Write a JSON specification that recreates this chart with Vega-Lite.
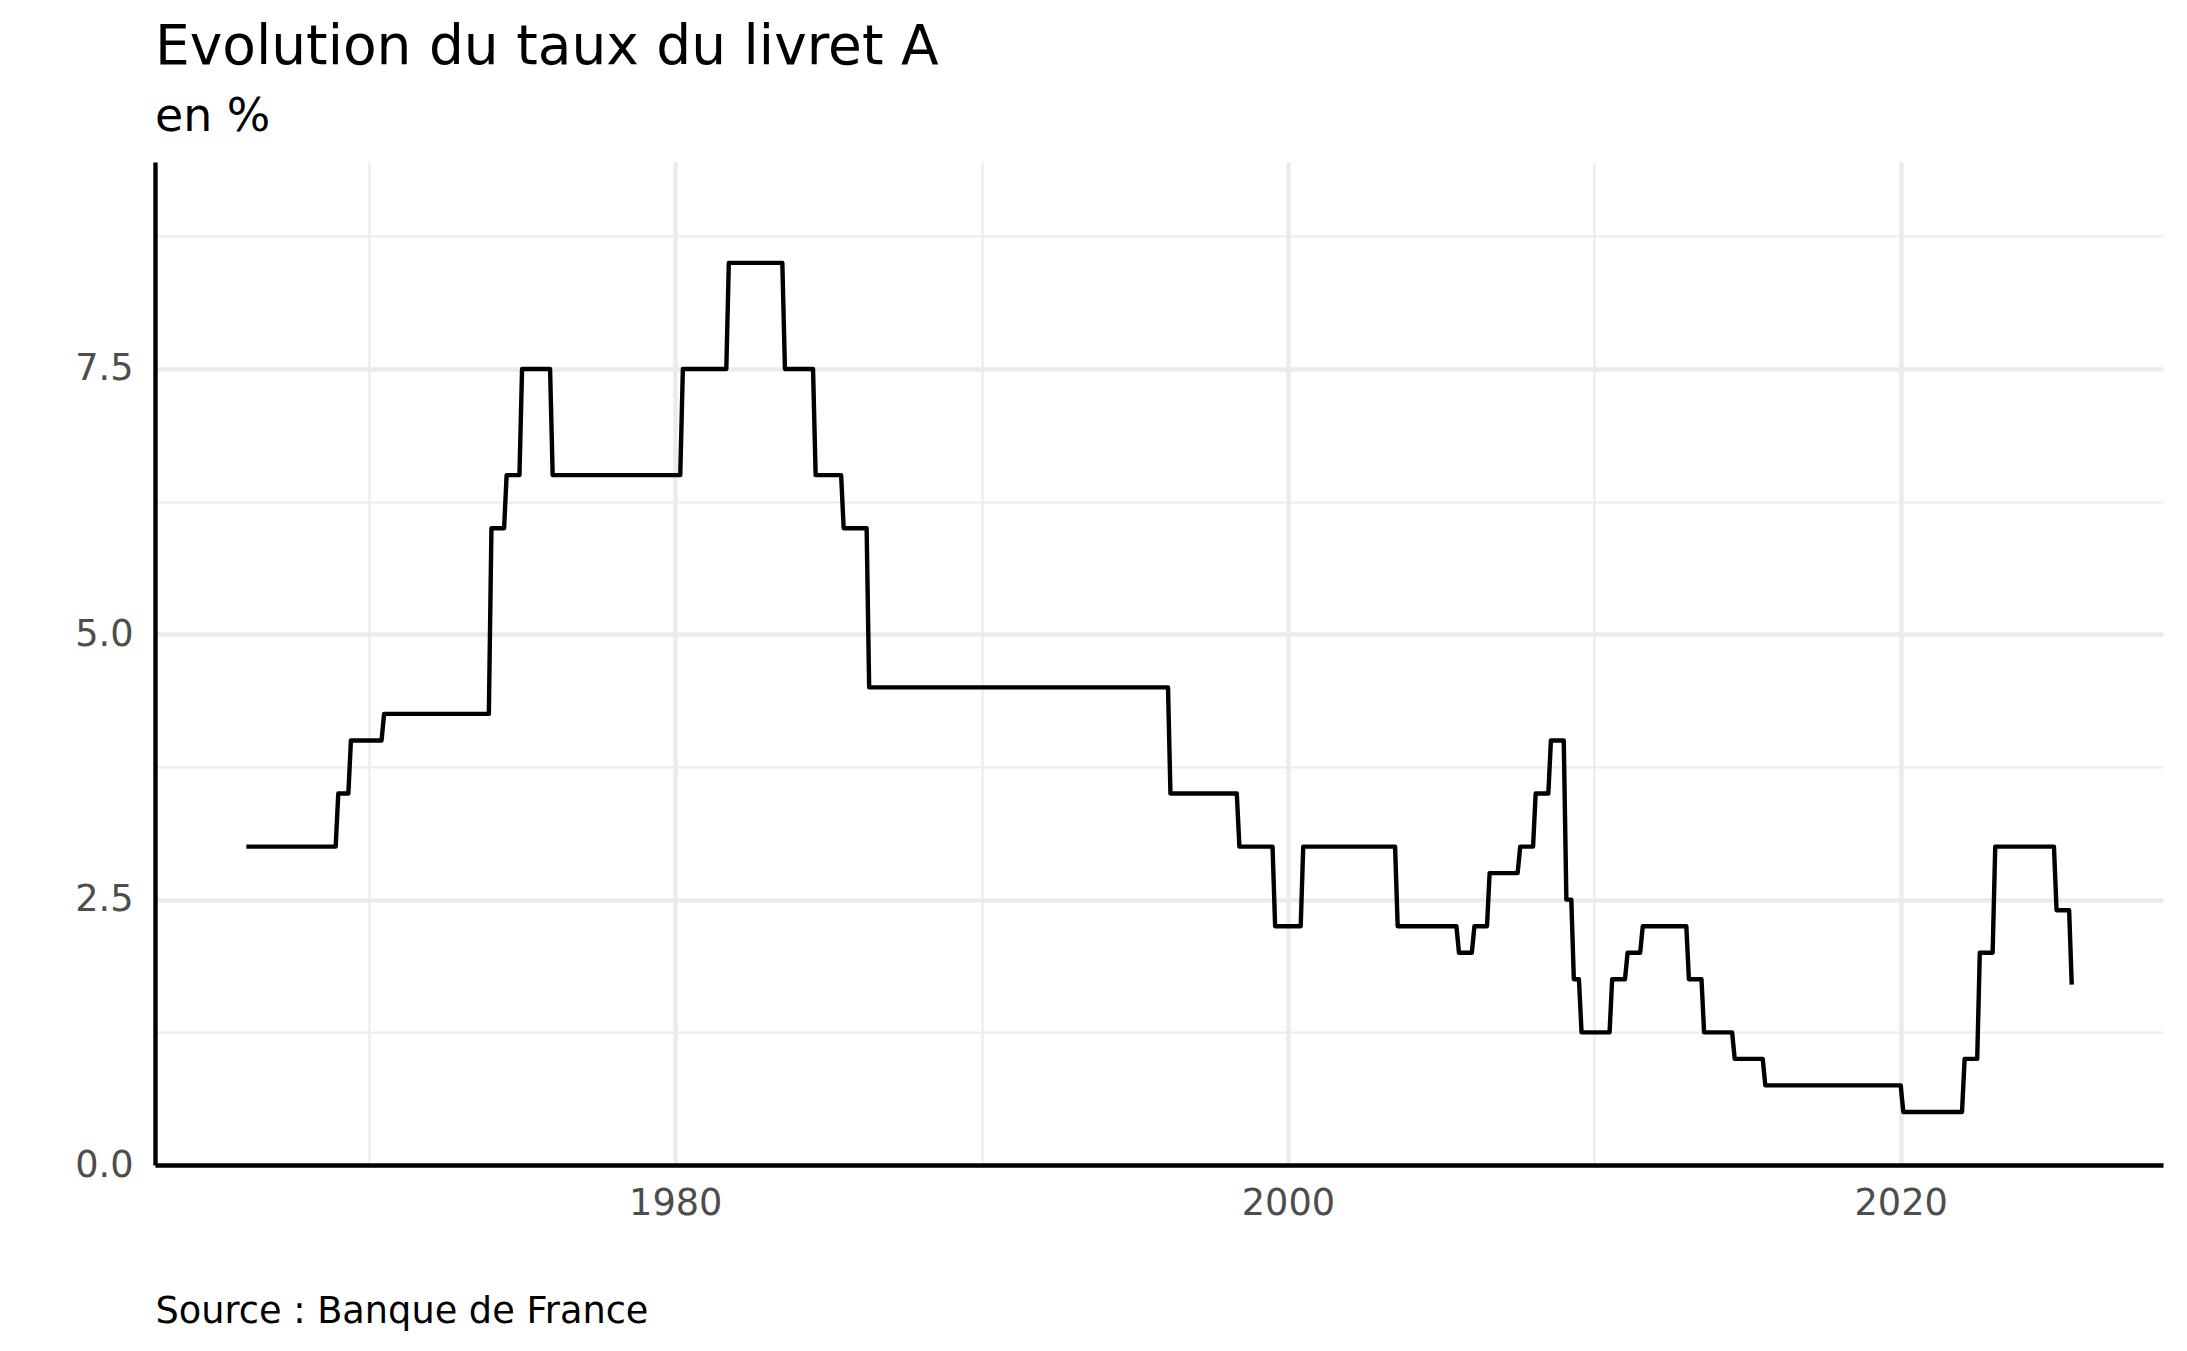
{
  "$schema": "https://vega.github.io/schema/vega-lite/v6.json",
  "autosize": {"type": "none"},
  "padding": {"left": 155, "top": 162, "right": 24, "bottom": 186},
  "width": 2008,
  "height": 1003,
  "background": "white",
  "title": {
    "text": "Evolution du taux du livret A",
    "subtitle": "en %",
    "anchor": "start",
    "frame": "group",
    "font": "DejaVu Sans",
    "fontSize": 55,
    "fontWeight": "normal",
    "color": "black",
    "subtitleFont": "DejaVu Sans",
    "subtitleFontSize": 45.8,
    "subtitleColor": "black",
    "offset": 21,
    "subtitlePadding": 19
  },
  "data": {
    "values": [
      {"date": "1966-01-01", "taux": 3.0},
      {"date": "1968-12-01", "taux": 3.0},
      {"date": "1969-01-01", "taux": 3.5},
      {"date": "1969-05-01", "taux": 3.5},
      {"date": "1969-06-01", "taux": 4.0},
      {"date": "1970-06-01", "taux": 4.0},
      {"date": "1970-07-01", "taux": 4.25},
      {"date": "1973-12-01", "taux": 4.25},
      {"date": "1974-01-01", "taux": 6.0},
      {"date": "1974-06-01", "taux": 6.0},
      {"date": "1974-07-01", "taux": 6.5},
      {"date": "1974-12-01", "taux": 6.5},
      {"date": "1975-01-01", "taux": 7.5},
      {"date": "1975-12-01", "taux": 7.5},
      {"date": "1976-01-01", "taux": 6.5},
      {"date": "1980-03-01", "taux": 6.5},
      {"date": "1980-04-01", "taux": 7.5},
      {"date": "1981-09-01", "taux": 7.5},
      {"date": "1981-10-01", "taux": 8.5},
      {"date": "1983-07-01", "taux": 8.5},
      {"date": "1983-08-01", "taux": 7.5},
      {"date": "1984-07-01", "taux": 7.5},
      {"date": "1984-08-01", "taux": 6.5},
      {"date": "1985-06-01", "taux": 6.5},
      {"date": "1985-07-01", "taux": 6.0},
      {"date": "1986-04-01", "taux": 6.0},
      {"date": "1986-05-01", "taux": 4.5},
      {"date": "1996-02-01", "taux": 4.5},
      {"date": "1996-03-01", "taux": 3.5},
      {"date": "1998-05-01", "taux": 3.5},
      {"date": "1998-06-01", "taux": 3.0},
      {"date": "1999-07-01", "taux": 3.0},
      {"date": "1999-08-01", "taux": 2.25},
      {"date": "2000-06-01", "taux": 2.25},
      {"date": "2000-07-01", "taux": 3.0},
      {"date": "2003-07-01", "taux": 3.0},
      {"date": "2003-08-01", "taux": 2.25},
      {"date": "2005-07-01", "taux": 2.25},
      {"date": "2005-08-01", "taux": 2.0},
      {"date": "2006-01-01", "taux": 2.0},
      {"date": "2006-02-01", "taux": 2.25},
      {"date": "2006-07-01", "taux": 2.25},
      {"date": "2006-08-01", "taux": 2.75},
      {"date": "2007-07-01", "taux": 2.75},
      {"date": "2007-08-01", "taux": 3.0},
      {"date": "2008-01-01", "taux": 3.0},
      {"date": "2008-02-01", "taux": 3.5},
      {"date": "2008-07-01", "taux": 3.5},
      {"date": "2008-08-01", "taux": 4.0},
      {"date": "2009-01-01", "taux": 4.0},
      {"date": "2009-02-01", "taux": 2.5},
      {"date": "2009-04-01", "taux": 2.5},
      {"date": "2009-05-01", "taux": 1.75},
      {"date": "2009-07-01", "taux": 1.75},
      {"date": "2009-08-01", "taux": 1.25},
      {"date": "2010-07-01", "taux": 1.25},
      {"date": "2010-08-01", "taux": 1.75},
      {"date": "2011-01-01", "taux": 1.75},
      {"date": "2011-02-01", "taux": 2.0},
      {"date": "2011-07-01", "taux": 2.0},
      {"date": "2011-08-01", "taux": 2.25},
      {"date": "2013-01-01", "taux": 2.25},
      {"date": "2013-02-01", "taux": 1.75},
      {"date": "2013-07-01", "taux": 1.75},
      {"date": "2013-08-01", "taux": 1.25},
      {"date": "2014-07-01", "taux": 1.25},
      {"date": "2014-08-01", "taux": 1.0},
      {"date": "2015-07-01", "taux": 1.0},
      {"date": "2015-08-01", "taux": 0.75},
      {"date": "2020-01-01", "taux": 0.75},
      {"date": "2020-02-01", "taux": 0.5},
      {"date": "2022-01-01", "taux": 0.5},
      {"date": "2022-02-01", "taux": 1.0},
      {"date": "2022-07-01", "taux": 1.0},
      {"date": "2022-08-01", "taux": 2.0},
      {"date": "2023-01-01", "taux": 2.0},
      {"date": "2023-02-01", "taux": 3.0},
      {"date": "2025-01-01", "taux": 3.0},
      {"date": "2025-02-01", "taux": 2.4},
      {"date": "2025-07-01", "taux": 2.4},
      {"date": "2025-08-01", "taux": 1.7}
    ]
  },
  "mark": {"type": "line", "color": "black", "strokeWidth": 4.4, "strokeCap": "butt", "strokeJoin": "round", "clip": true},
  "encoding": {
    "x": {
      "field": "date",
      "type": "temporal",
      "scale": {
        "type": "utc",
        "domain": [
          {"year": 1963, "month": 1, "date": 8, "utc": true},
          {"year": 2028, "month": 7, "date": 24, "utc": true}
        ]
      },
      "axis": {
        "values": [
          {"year": 1970, "utc": true},
          {"year": 1980, "utc": true},
          {"year": 1990, "utc": true},
          {"year": 2000, "utc": true},
          {"year": 2010, "utc": true},
          {"year": 2020, "utc": true}
        ],
        "labelExpr": "utcyear(datum.value) % 20 === 0 ? utcFormat(datum.value, '%Y') : ''",
        "labelFont": "DejaVu Sans",
        "labelFontSize": 36.7,
        "labelColor": "#4D4D4D",
        "labelBaseline": "alphabetic",
        "labelPadding": 49,
        "labelOverlap": false,
        "labelBound": false,
        "labelFlush": false,
        "ticks": false,
        "tickSize": 0,
        "domain": true,
        "domainColor": "black",
        "domainWidth": 4.4,
        "domainCap": "butt",
        "grid": true,
        "gridColor": "#EBEBEB",
        "gridWidth": {"condition": {"test": "utcyear(datum.value) % 20 === 0", "value": 4.4}, "value": 2.2},
        "title": "Source : Banque de France",
        "titleFont": "DejaVu Sans",
        "titleFontSize": 36.7,
        "titleFontWeight": "normal",
        "titleColor": "black",
        "titleAnchor": "start",
        "titleAlign": "left",
        "titleBaseline": "alphabetic",
        "titleX": 0,
        "titleY": 157
      }
    },
    "y": {
      "field": "taux",
      "type": "quantitative",
      "scale": {"domain": [0, 9.45], "nice": false, "zero": true},
      "axis": {
        "values": [0, 1.25, 2.5, 3.75, 5, 6.25, 7.5, 8.75],
        "labelExpr": "datum.value % 2.5 === 0 ? format(datum.value, '.1f') : ''",
        "labelFont": "DejaVu Sans",
        "labelFontSize": 36.7,
        "labelColor": "#4D4D4D",
        "labelBaseline": "middle",
        "labelPadding": 22,
        "labelOverlap": false,
        "labelBound": false,
        "labelFlush": false,
        "ticks": false,
        "tickSize": 0,
        "domain": true,
        "domainColor": "black",
        "domainWidth": 4.4,
        "domainCap": "butt",
        "grid": true,
        "gridColor": "#EBEBEB",
        "gridWidth": {"condition": {"test": "datum.value % 2.5 === 0", "value": 4.4}, "value": 2.2},
        "title": null
      }
    }
  },
  "config": {
    "view": {"stroke": null}
  }
}
